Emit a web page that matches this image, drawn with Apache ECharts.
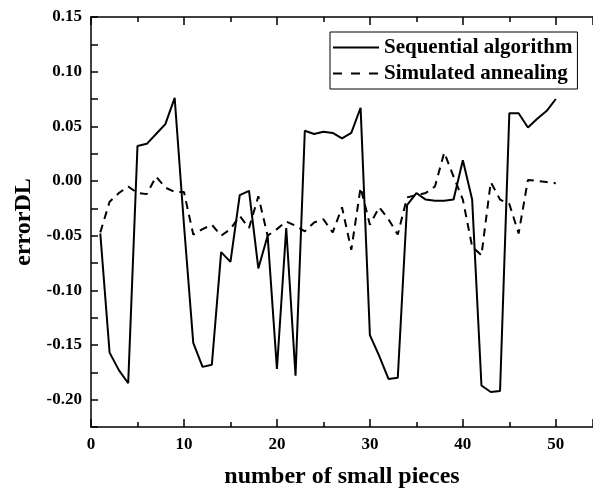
<!DOCTYPE html>
<html>
<head>
<meta charset="utf-8">
<script src="https://cdn.jsdelivr.net/npm/echarts@6/dist/echarts.min.js"></script>
<style>
  html, body { margin: 0; padding: 0; background: #fff; }
  #chart { width: 593px; height: 488px; }
</style>
</head>
<body>
<div id="chart"></div>
<script>
// number of small pieces
const pieces = [1, 2, 3, 4, 5, 6, 7, 8, 9, 10, 11, 12, 13, 14, 15, 16, 17, 18, 19, 20,
  21, 22, 23, 24, 25, 26, 27, 28, 29, 30, 31, 32, 33, 34, 35, 36, 37, 38, 39, 40,
  41, 42, 43, 44, 45, 46, 47, 48, 49, 50];

const sequential = [-0.048, -0.157, -0.173, -0.185, 0.032, 0.034, 0.043, 0.052, 0.076, -0.040,
  -0.148, -0.170, -0.168, -0.065, -0.074, -0.013, -0.009, -0.080, -0.050, -0.172,
  -0.043, -0.178, 0.046, 0.043, 0.045, 0.044, 0.039, 0.044, 0.067, -0.141,
  -0.160, -0.181, -0.180, -0.022, -0.011, -0.017, -0.018, -0.018, -0.017, 0.019,
  -0.017, -0.187, -0.193, -0.192, 0.062, 0.062, 0.049, 0.057, 0.064, 0.075];

const annealing = [-0.047, -0.019, -0.011, -0.005, -0.011, -0.012, 0.004, -0.006, -0.010, -0.010,
  -0.049, -0.044, -0.040, -0.050, -0.044, -0.032, -0.043, -0.014, -0.050, -0.044,
  -0.037, -0.041, -0.046, -0.038, -0.035, -0.047, -0.024, -0.063, -0.006, -0.040,
  -0.024, -0.035, -0.049, -0.015, -0.013, -0.011, -0.005, 0.026, 0.004, -0.017,
  -0.060, -0.068, -0.001, -0.017, -0.021, -0.048, 0.001, 0.000, -0.001, -0.002];

const seriesNames = ['Sequential algorithm', 'Simulated annealing'];

const font = 'Liberation Serif, Times New Roman, serif';

const pairs = (ys) => pieces.map((x, i) => [x, ys[i]]);

const chart = echarts.init(document.getElementById('chart'));

const axisLine = { show: true, onZero: false, lineStyle: { color: '#000', width: 1.5 } };
const tickStyle = { color: '#000', width: 1.5 };

const option = {
  animation: false,
  backgroundColor: '#fff',
  grid: { left: 91, right: 0, top: 17, bottom: 61, containLabel: false, outerBoundsMode: 'none' },
  legend: {
    orient: 'vertical',
    left: 330,
    top: 32,
    padding: [5, 5, 5, 2],
    itemGap: 5,
    itemWidth: 46,
    itemHeight: 14,
    borderColor: '#000',
    borderWidth: 1,
    itemStyle: { color: 'rgba(0,0,0,0)', borderWidth: 0 },
    textStyle: { fontFamily: font, fontWeight: 'bold', fontSize: 21, color: '#000' },
    data: [
      { name: seriesNames[0] },
      { name: seriesNames[1], lineStyle: { type: [9, 9] } }
    ]
  },
  xAxis: [
    {
      type: 'value',
      min: 0,
      max: 54,
      interval: 10,
      name: 'number of small pieces',
      nameLocation: 'middle',
      nameGap: 38,
      nameTextStyle: { fontFamily: font, fontWeight: 'bold', fontSize: 24, color: '#000' },
      axisLine: axisLine,
      axisTick: { inside: true, length: 8, lineStyle: tickStyle },
      minorTick: { show: true, splitNumber: 2, length: 5, lineStyle: tickStyle },
      axisLabel: {
        margin: 9,
        fontFamily: font, fontWeight: 'bold', fontSize: 17, color: '#000',
        showMaxLabel: false
      },
      splitLine: { show: false }
    },
    {
      type: 'value',
      position: 'top',
      min: 0,
      max: 54,
      interval: 10,
      axisLine: axisLine,
      axisTick: { inside: true, length: 8, lineStyle: tickStyle },
      minorTick: { show: true, splitNumber: 2, length: 5, lineStyle: tickStyle },
      axisLabel: { show: false },
      splitLine: { show: false }
    }
  ],
  yAxis: {
    type: 'value',
    min: -0.225,
    max: 0.15,
    interval: 0.025,
    name: 'errorDL',
    nameLocation: 'middle',
    nameGap: 53,
    nameRotate: 90,
    nameTextStyle: { fontFamily: font, fontWeight: 'bold', fontSize: 24, color: '#000' },
    axisLine: axisLine,
    axisTick: { inside: true, length: 7, lineStyle: tickStyle },
    axisLabel: {
      margin: 9,
      fontFamily: font, fontWeight: 'bold', fontSize: 17, color: '#000',
      formatter: (v) => (Math.round(v * 1000) % 50 === 0 ? v.toFixed(2) : '')
    },
    splitLine: { show: false }
  },
  series: [
    {
      name: seriesNames[0],
      type: 'line',
      data: pairs(sequential),
      symbol: 'none',
      lineStyle: { color: '#000', width: 2 }
    },
    {
      name: seriesNames[1],
      type: 'line',
      data: pairs(annealing),
      symbol: 'none',
      lineStyle: { color: '#000', width: 2, type: [8, 6] }
    }
  ]
};

chart.setOption(option);
</script>
</body>
</html>
